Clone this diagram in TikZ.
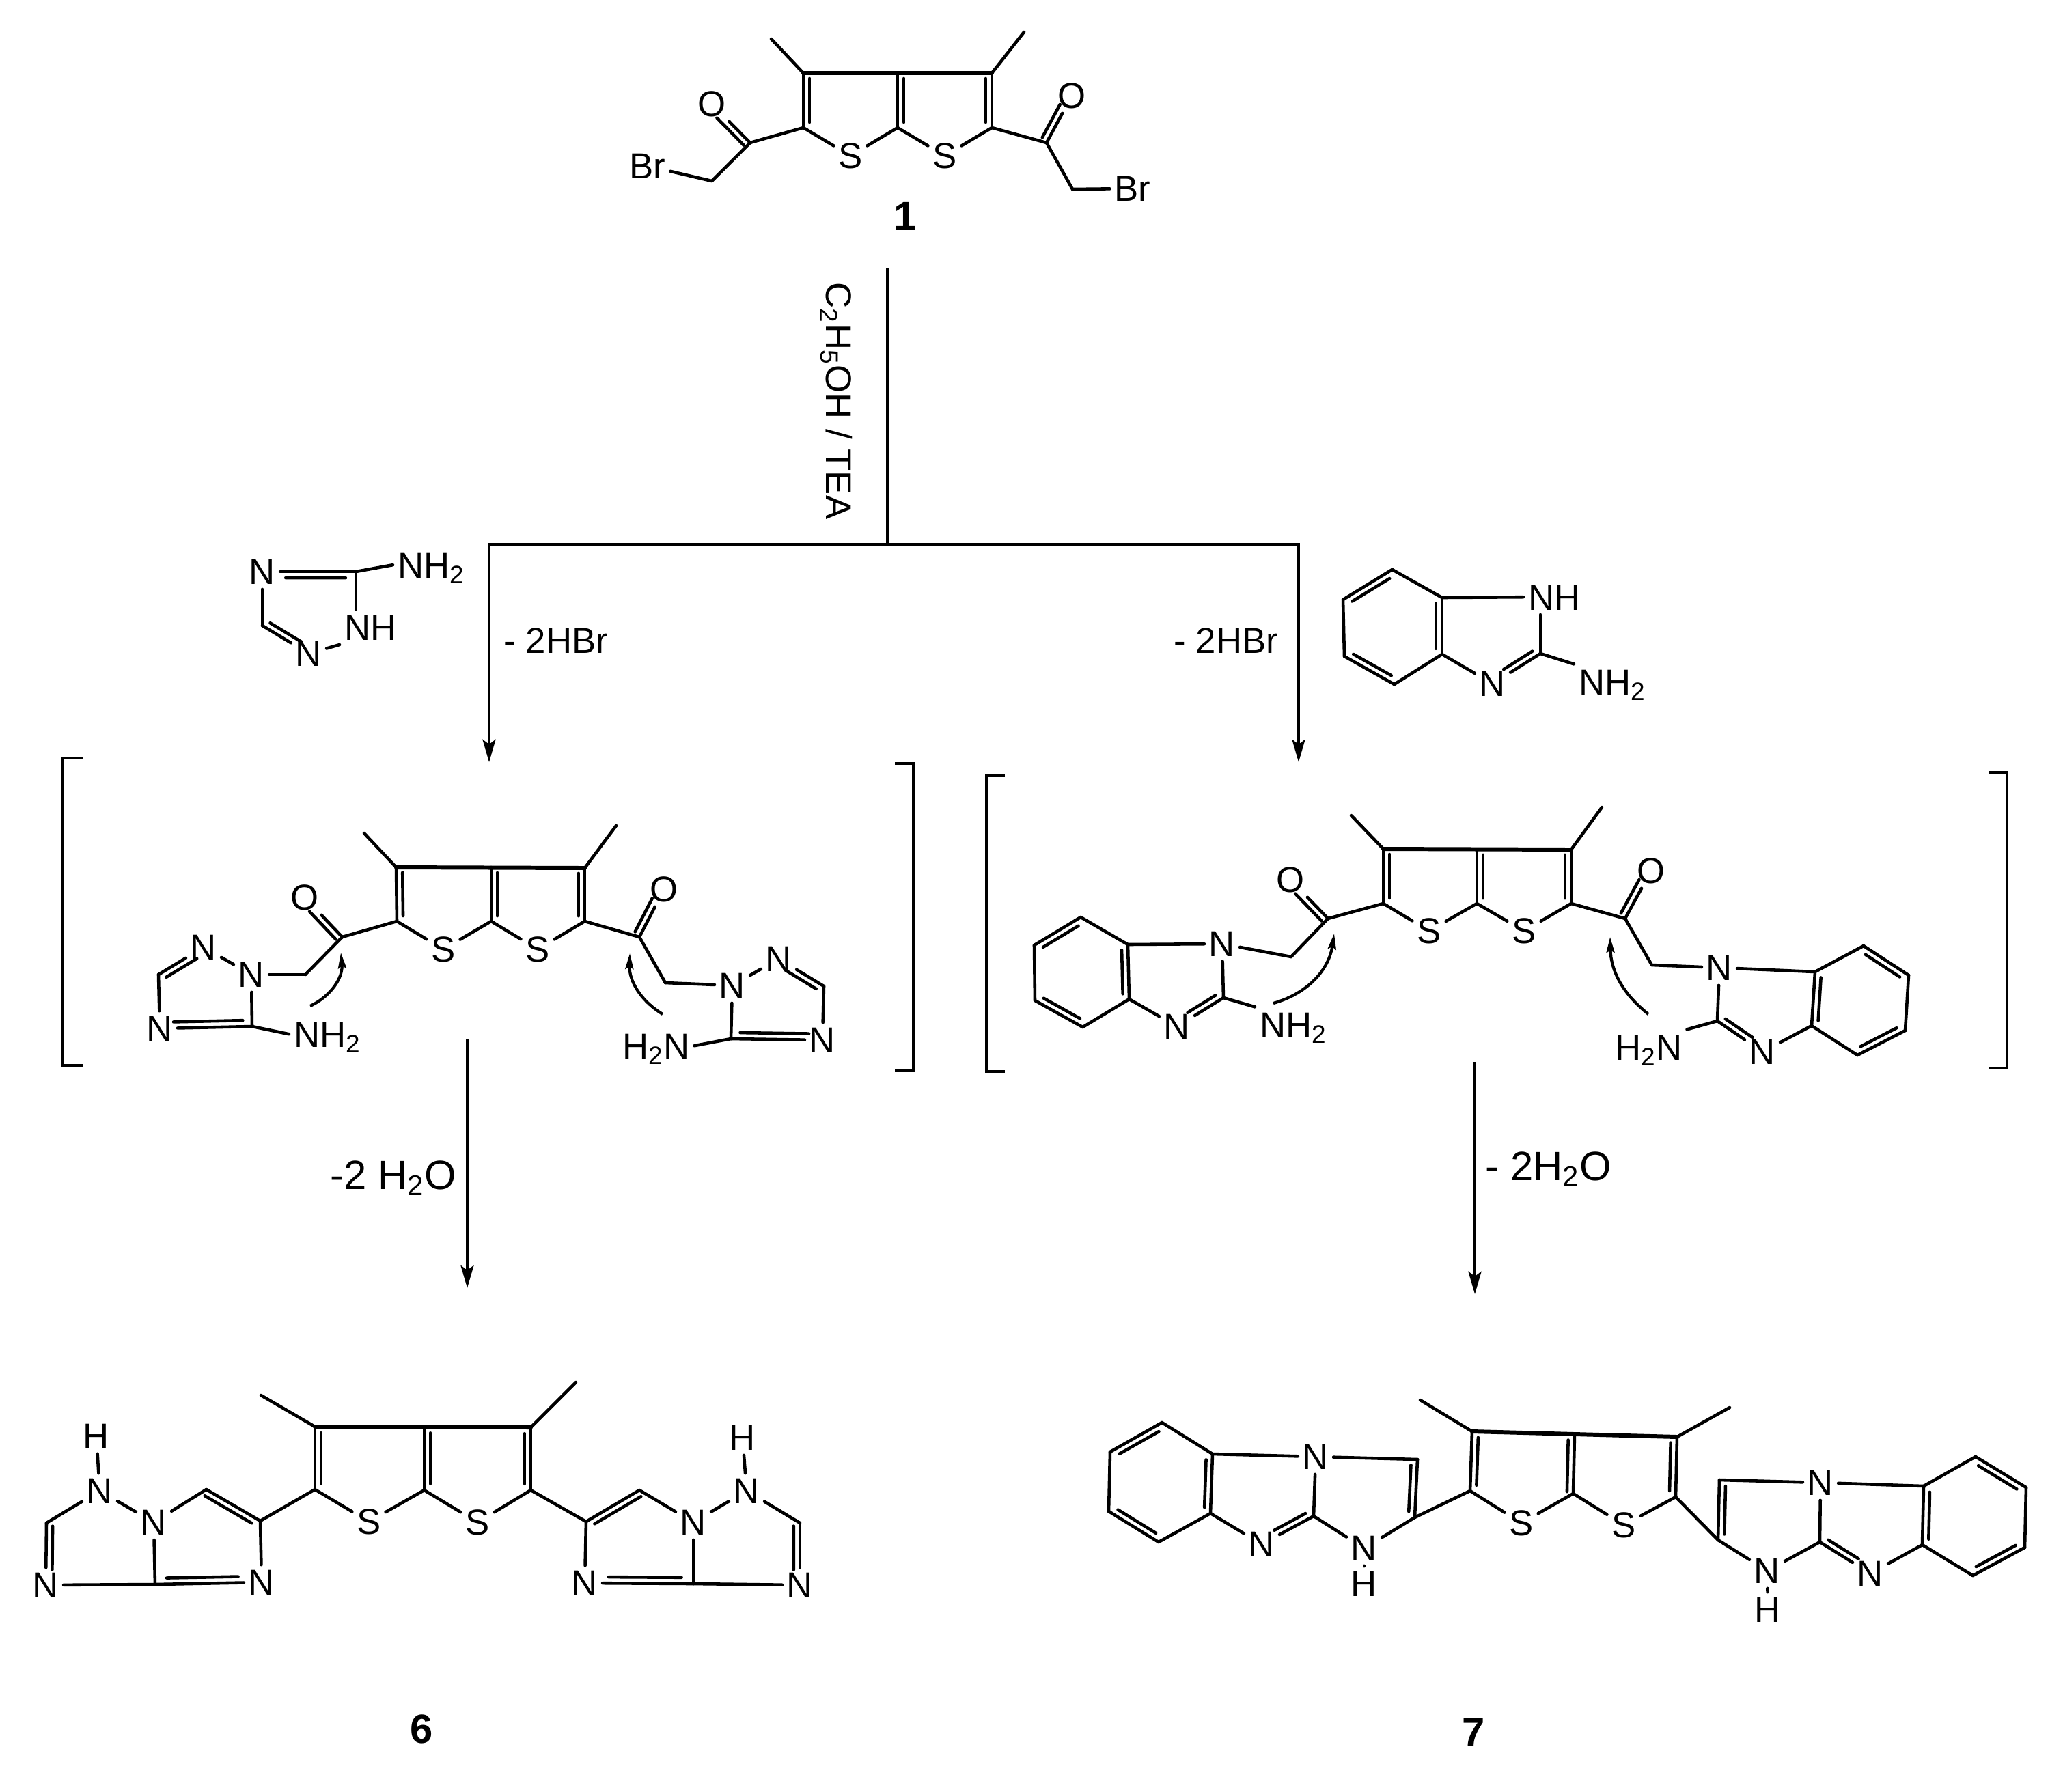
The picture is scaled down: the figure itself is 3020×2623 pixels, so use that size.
\documentclass[tikz,border=0pt]{standalone}
\usepackage{fontspec}
\setmainfont{Liberation Sans}
\usepackage{tikz}
\usetikzlibrary{calc, arrows.meta}

\tikzset{
  atom/.style={inner sep=1.8pt, font=\fontsize{15}{18}\selectfont, text height=10.7pt, text depth=0pt},
  txt/.style={inner sep=0pt, font=\fontsize{15}{18}\selectfont},
  bigtxt/.style={inner sep=0pt, font=\fontsize{17}{20}\selectfont},
  numlabel/.style={inner sep=0pt, font=\fontsize{17}{20}\selectfont\bfseries},
  bond/.style={line width=1.3pt, line cap=round, line join=round},
  topbond/.style={line width=1.7pt},
  bracketline/.style={line width=1.35pt},
  treeline/.style={line width=1.3pt},
  downarrow/.style={line width=1.3pt, -{Stealth[length=9.4pt, width=5.4pt, inset=2pt]}},
  curvearrow/.style={line width=1.2pt, -{Stealth[length=6.5pt, width=3.4pt, inset=1pt]}}
}

% double bond: outer line, inner line on the side given by the angle
\newcommand{\dbond}[5]{%
  \draw[bond] (#1) -- (#2);
  \draw[bond] ($(#1)!#4!(#2)!2.6pt!#3:(#2)$) -- ($(#2)!#5!(#1)!-2.6pt!#3:(#1)$);
}

\begin{document}
\begin{tikzpicture}[x=0.01cm, y=-0.01cm]
    \useasboundingbox (0,0) rectangle (3020,2623);

    % compound 1
    \coordinate (a3l) at (1176,107);
    \coordinate (atop) at (1314,107);
    \coordinate (a3r) at (1452,107);
    \coordinate (amel) at (1129,57);
    \coordinate (amer) at (1499,47);
    \coordinate (a2l) at (1176,187);
    \coordinate (abot) at (1314,187);
    \coordinate (a2r) at (1452,187);
    \coordinate (acol) at (1098,209);
    \coordinate (acor) at (1532,209);
    \coordinate (achl) at (1042,265);
    \coordinate (achr) at (1570,277);
    \node[atom] (asl) at (1245,228) {S};
    \node[atom] (asr) at (1383,228) {S};
    \node[atom] (aol) at (1042,152) {O};
    \node[atom] (aor) at (1569,140) {O};
    \node[atom] (abrl) at (948,243) {Br};
    \node[atom] (abrr) at (1658,276) {Br};
    \node[numlabel] (num1) at (1325,317) {1};

    \draw[bond, topbond] (a3l) -- (a3r);
    \draw[bond] (a3l) -- (amel);
    \draw[bond] (a3r) -- (amer);
    \dbond{a3l}{a2l}{90}{.1}{.1}
    \dbond{atop}{abot}{90}{.1}{.1}
    \dbond{a3r}{a2r}{-90}{.1}{.1}
    \draw[bond] (a2l) -- (asl);
    \draw[bond] (abot) -- (asl);
    \draw[bond] (abot) -- (asr);
    \draw[bond] (a2r) -- (asr);
    \draw[bond] (a2l) -- (acol);
    \draw[bond] (a2r) -- (acor);
    \dbond{acol}{aol}{90}{.05}{.25}
    \dbond{acor}{aor}{90}{.05}{.25}
    \draw[bond] (acol) -- (achl);
    \draw[bond] (acor) -- (achr);
    \draw[bond] (achl) -- (abrl);
    \draw[bond] (achr) -- (abrr);

    % reaction tree
    \coordinate (treetop) at (1299,393);
    \coordinate (fork) at (1299,797);
    \coordinate (forkl) at (716,797);
    \coordinate (forkr) at (1901,797);
    \coordinate (tipl) at (716,1116);
    \coordinate (tipr) at (1901,1116);
    \draw[treeline] (treetop) -- (fork);
    \draw[treeline, line cap=rect] (forkl) -- (forkr);
    \draw[downarrow] (forkl) -- (tipl);
    \draw[downarrow] (forkr) -- (tipr);
    \node[txt, rotate=-90, text height=10.7pt, text depth=0pt] (solvent) at (1228,587) {C\textsubscript{2}H\textsubscript{5}OH / TEA};
    \node[txt, anchor=base west] (hbrl) at (737,956) {- 2HBr};
    \node[txt, anchor=base west] (hbrr) at (1718,956) {- 2HBr};

    % reagent: aminotriazole
    \coordinate (tcn) at (521,837);
    \coordinate (tch) at (384,916);
    \node[atom] (tna) at (384,837) {N};
    \node[atom] (tnb) at (452,957) {N};
    \node[atom, anchor=base west] (tnh) at (497,937) {NH};
    \node[atom, anchor=base west] (tnh2) at (575,846) {NH\textsubscript{2}};
    \draw[bond] (tcn) -- (tnh2.west);
    \dbond{tna}{tcn}{-90}{.25}{.11}
    \draw[bond] (tcn) -- (tnh.north -| tcn);
    \draw[bond] (tna) -- (tch);
    \dbond{tch}{tnb}{90}{.1}{.22}
    \draw[bond] (tnb) -- (tnh.south west);

    % reagent: aminobenzimidazole
    \coordinate (ra) at (2111,875);
    \coordinate (rb) at (2038,834);
    \coordinate (rc) at (1966,878);
    \coordinate (rd) at (1968,961);
    \coordinate (re) at (2041,1002);
    \coordinate (rf) at (2111,958);
    \coordinate (rc2) at (2255,957);
    \node[atom] (rn3) at (2185,1001) {N};
    \node[atom, anchor=base west] (rnh) at (2230,893) {NH};
    \node[atom, anchor=base west] (rnh2) at (2304,1017) {NH\textsubscript{2}};
    \dbond{rf}{ra}{90}{.1}{.1}
    \draw[bond] (ra) -- (rb);
    \dbond{rb}{rc}{90}{.12}{.12}
    \draw[bond] (rc) -- (rd);
    \dbond{rd}{re}{90}{.12}{.12}
    \draw[bond] (re) -- (rf);
    \draw[bond] (ra) -- (rnh.west);
    \draw[bond] (rc2) -- (rnh.south -| rc2);
    \draw[bond] (rf) -- (rn3);
    \dbond{rc2}{rn3}{-90}{.1}{.3}
    \draw[bond] (rc2) -- (rnh2.north west);

    % triazole intermediate, brackets
    \coordinate (blt) at (122,1110);
    \coordinate (bla) at (91,1110);
    \coordinate (blb) at (91,1560);
    \coordinate (blc) at (122,1560);
    \coordinate (brt) at (1310,1118);
    \coordinate (bra) at (1337,1118);
    \coordinate (brb) at (1337,1568);
    \coordinate (brc) at (1310,1568);
    \draw[bracketline] (blt) -- (bla) -- (blb) -- (blc);
    \draw[bracketline] (brt) -- (bra) -- (brb) -- (brc);

    % triazole intermediate
    \coordinate (b3l) at (580,1270);
    \coordinate (btop) at (719,1270);
    \coordinate (b3r) at (856,1271);
    \coordinate (bmel) at (533,1220);
    \coordinate (bmer) at (902,1209);
    \coordinate (b2l) at (581,1349);
    \coordinate (bbot) at (719,1349);
    \coordinate (b2r) at (856,1349);
    \coordinate (bcol) at (501,1372);
    \coordinate (bcor) at (936,1372);
    \coordinate (bchl) at (447,1427);
    \coordinate (bchr) at (974,1439);
    \coordinate (bcl) at (232,1427);
    \coordinate (bcr) at (1206,1444);
    \coordinate (bc5l) at (369,1503);
    \coordinate (bc5r) at (1070,1521);
    \node[atom] (bsl) at (649,1390) {S};
    \node[atom] (bsr) at (787,1390) {S};
    \node[atom] (bol) at (446,1314) {O};
    \node[atom] (bor) at (972,1302) {O};
    \node[atom] (bn1l) at (368,1427) {N};
    \node[atom] (bn2l) at (298,1387) {N};
    \node[atom] (bn4l) at (234,1506) {N};
    \node[atom] (bn1r) at (1072,1443) {N};
    \node[atom] (bn2r) at (1140,1404) {N};
    \node[atom] (bn4r) at (1204,1523) {N};
    \node[atom, anchor=base west] (bnh2) at (423,1533) {NH\textsubscript{2}};
    \node[atom, anchor=base west] (bh2n) at (904,1550) {H\textsubscript{2}N};

    \draw[bond, topbond] (b3l) -- (b3r);
    \draw[bond] (b3l) -- (bmel);
    \draw[bond] (b3r) -- (bmer);
    \dbond{b3l}{b2l}{90}{.1}{.1}
    \dbond{btop}{bbot}{90}{.1}{.1}
    \dbond{b3r}{b2r}{-90}{.1}{.1}
    \draw[bond] (b2l) -- (bsl);
    \draw[bond] (bbot) -- (bsl);
    \draw[bond] (bbot) -- (bsr);
    \draw[bond] (b2r) -- (bsr);
    \draw[bond] (b2l) -- (bcol);
    \draw[bond] (b2r) -- (bcor);
    \dbond{bcol}{bol}{90}{.05}{.25}
    \dbond{bcor}{bor}{90}{.05}{.25}
    \draw[bond] (bcol) -- (bchl);
    \draw[bond] (bcor) -- (bchr);
    \draw[bond] (bchl) -- (bn1l);
    \draw[bond] (bchr) -- (bn1r);
    \draw[bond] (bn1l) -- (bn2l);
    \dbond{bcl}{bn2l}{-90}{.1}{.22}
    \draw[bond] (bcl) -- (bn4l);
    \dbond{bn4l}{bc5l}{90}{.15}{.1}
    \draw[bond] (bn1l) -- (bc5l);
    \draw[bond] (bc5l) -- (bnh2.west);
    \draw[bond] (bn1r) -- (bn2r);
    \dbond{bcr}{bn2r}{90}{.1}{.22}
    \draw[bond] (bcr) -- (bn4r);
    \dbond{bn4r}{bc5r}{-90}{.15}{.1}
    \draw[bond] (bn1r) -- (bc5r);
    \draw[bond] (bc5r) -- (bh2n.east);

    \coordinate (barcla) at (454,1473);
    \coordinate (barclb) at (499,1395);
    \coordinate (barcra) at (970,1485);
    \coordinate (barcrb) at (922,1396);
    \draw[curvearrow] (barcla) to[bend right=35] (barclb);
    \draw[curvearrow] (barcra) to[bend left=30] (barcrb);

    % benzimidazole intermediate, brackets
    \coordinate (dlt) at (1471,1136);
    \coordinate (dla) at (1444,1136);
    \coordinate (dlb) at (1444,1569);
    \coordinate (dlc) at (1471,1569);
    \coordinate (drt) at (2912,1131);
    \coordinate (dra) at (2938,1131);
    \coordinate (drb) at (2938,1564);
    \coordinate (drc) at (2912,1564);
    \draw[bracketline] (dlt) -- (dla) -- (dlb) -- (dlc);
    \draw[bracketline] (drt) -- (dra) -- (drb) -- (drc);

    % benzimidazole intermediate
    \coordinate (d3l) at (2025,1243);
    \coordinate (dtop) at (2162,1244);
    \coordinate (d3r) at (2300,1244);
    \coordinate (dmel) at (1978,1194);
    \coordinate (dmer) at (2345,1182);
    \coordinate (d2l) at (2025,1323);
    \coordinate (dbot) at (2162,1323);
    \coordinate (d2r) at (2300,1323);
    \coordinate (dcol) at (1944,1345);
    \coordinate (dcor) at (2379,1345);
    \coordinate (dchl) at (1890,1401);
    \coordinate (dchr) at (2418,1413);
    \coordinate (dla1) at (1651,1383);
    \coordinate (dlb1) at (1582,1343);
    \coordinate (dlc1) at (1514,1384);
    \coordinate (dld1) at (1515,1465);
    \coordinate (dle1) at (1585,1504);
    \coordinate (dlf1) at (1653,1463);
    \coordinate (dc2l) at (1791,1461);
    \coordinate (dra1) at (2657,1423);
    \coordinate (drb1) at (2728,1385);
    \coordinate (drc1) at (2794,1428);
    \coordinate (drd1) at (2789,1509);
    \coordinate (dre1) at (2719,1545);
    \coordinate (drf1) at (2652,1502);
    \coordinate (dc2r) at (2514,1495);
    \node[atom] (dsl) at (2092,1363) {S};
    \node[atom] (dsr) at (2231,1363) {S};
    \node[atom] (dol) at (1889,1288) {O};
    \node[atom] (dor) at (2417,1275) {O};
    \node[atom] (dn1l) at (1789,1382) {N};
    \node[atom] (dn3l) at (1723,1503) {N};
    \node[atom] (dn1r) at (2517,1417) {N};
    \node[atom] (dn3r) at (2580,1540) {N};
    \node[atom, anchor=base west] (dnh2) at (1837,1519) {NH\textsubscript{2}};
    \node[atom, anchor=base west] (dh2n) at (2357,1552) {H\textsubscript{2}N};

    \draw[bond, topbond] (d3l) -- (d3r);
    \draw[bond] (d3l) -- (dmel);
    \draw[bond] (d3r) -- (dmer);
    \dbond{d3l}{d2l}{90}{.1}{.1}
    \dbond{dtop}{dbot}{90}{.1}{.1}
    \dbond{d3r}{d2r}{-90}{.1}{.1}
    \draw[bond] (d2l) -- (dsl);
    \draw[bond] (dbot) -- (dsl);
    \draw[bond] (dbot) -- (dsr);
    \draw[bond] (d2r) -- (dsr);
    \draw[bond] (d2l) -- (dcol);
    \draw[bond] (d2r) -- (dcor);
    \dbond{dcol}{dol}{90}{.05}{.25}
    \dbond{dcor}{dor}{90}{.05}{.25}
    \draw[bond] (dcol) -- (dchl);
    \draw[bond] (dcor) -- (dchr);
    \draw[bond] (dchl) -- (dn1l);
    \draw[bond] (dchr) -- (dn1r);
    \dbond{dlf1}{dla1}{90}{.1}{.1}
    \draw[bond] (dla1) -- (dlb1);
    \dbond{dlb1}{dlc1}{90}{.12}{.12}
    \draw[bond] (dlc1) -- (dld1);
    \dbond{dld1}{dle1}{90}{.12}{.12}
    \draw[bond] (dle1) -- (dlf1);
    \draw[bond] (dla1) -- (dn1l);
    \draw[bond] (dn1l) -- (dc2l);
    \dbond{dc2l}{dn3l}{-90}{.1}{.3}
    \draw[bond] (dlf1) -- (dn3l);
    \draw[bond] (dc2l) -- (dnh2.north west);
    \dbond{dra1}{drf1}{90}{.1}{.1}
    \draw[bond] (dra1) -- (drb1);
    \dbond{drb1}{drc1}{-90}{.12}{.12}
    \draw[bond] (drc1) -- (drd1);
    \dbond{drd1}{dre1}{-90}{.12}{.12}
    \draw[bond] (dre1) -- (drf1);
    \draw[bond] (dra1) -- (dn1r);
    \draw[bond] (dn1r) -- (dc2r);
    \dbond{dc2r}{dn3r}{90}{.1}{.3}
    \draw[bond] (drf1) -- (dn3r);
    \draw[bond] (dc2r) -- (dh2n.north east);

    \coordinate (darcla) at (1864,1469);
    \coordinate (darclb) at (1953,1367);
    \coordinate (darcra) at (2413,1485);
    \coordinate (darcrb) at (2357,1372);
    \draw[curvearrow] (darcla) to[bend right=33] (darclb);
    \draw[curvearrow] (darcra) to[bend left=25] (darcrb);

    % water loss arrows
    \coordinate (watla) at (684,1521);
    \coordinate (watlb) at (684,1886);
    \coordinate (watra) at (2159,1555);
    \coordinate (watrb) at (2159,1895);
    \draw[downarrow] (watla) -- (watlb);
    \draw[downarrow] (watra) -- (watrb);
    \node[bigtxt, anchor=base west] (waterl) at (483,1741) {-2 H\textsubscript{2}O};
    \node[bigtxt, anchor=base west] (waterr) at (2174,1728) {- 2H\textsubscript{2}O};

    % compound 6
    \coordinate (e3l) at (461,2089);
    \coordinate (etop) at (621,2089);
    \coordinate (e3r) at (777,2090);
    \coordinate (emel) at (382,2043);
    \coordinate (emer) at (843,2024);
    \coordinate (e2l) at (461,2181);
    \coordinate (ebot) at (621,2182);
    \coordinate (e2r) at (777,2182);
    \coordinate (ecl) at (381,2227);
    \coordinate (echl) at (302,2181);
    \coordinate (ehcl) at (68,2230);
    \coordinate (efl) at (227,2320);
    \coordinate (ecr) at (858,2228);
    \coordinate (echr) at (936,2182);
    \coordinate (ehcr) at (1171,2230);
    \coordinate (efr) at (1015,2319);
    \node[atom] (esl) at (540,2228) {S};
    \node[atom] (esr) at (699,2229) {S};
    \node[atom] (enal) at (225,2229) {N};
    \node[atom] (enhl) at (146,2183) {N};
    \node[atom] (ehl) at (141,2103) {H};
    \node[atom] (enbl) at (67,2321) {N};
    \node[atom] (encl) at (383,2317) {N};
    \node[atom] (enar) at (1015,2229) {N};
    \node[atom] (enhr) at (1093,2183) {N};
    \node[atom] (ehr) at (1087,2105) {H};
    \node[atom] (enbr) at (1171,2321) {N};
    \node[atom] (encr) at (856,2318) {N};
    \node[numlabel] (num6) at (617,2532) {6};

    \draw[bond, topbond] (e3l) -- (e3r);
    \draw[bond] (e3l) -- (emel);
    \draw[bond] (e3r) -- (emer);
    \dbond{e3l}{e2l}{90}{.1}{.1}
    \dbond{etop}{ebot}{90}{.1}{.1}
    \dbond{e3r}{e2r}{-90}{.1}{.1}
    \draw[bond] (e2l) -- (esl);
    \draw[bond] (ebot) -- (esl);
    \draw[bond] (ebot) -- (esr);
    \draw[bond] (e2r) -- (esr);
    \draw[bond] (e2l) -- (ecl);
    \draw[bond] (e2r) -- (ecr);
    \dbond{ecl}{echl}{90}{.1}{.03}
    \draw[bond] (echl) -- (enal);
    \draw[bond] (enal) -- (enhl);
    \draw[bond] (enhl) -- (ehl);
    \draw[bond] (enhl) -- (ehcl);
    \dbond{ehcl}{enbl}{90}{.05}{.25}
    \draw[bond] (enbl) -- (efl);
    \draw[bond] (enal) -- (efl);
    \dbond{efl}{encl}{90}{.11}{.22}
    \draw[bond] (ecl) -- (encl);
    \dbond{ecr}{echr}{-90}{.1}{.03}
    \draw[bond] (echr) -- (enar);
    \draw[bond] (enar) -- (enhr);
    \draw[bond] (enhr) -- (ehr);
    \draw[bond] (enhr) -- (ehcr);
    \dbond{ehcr}{enbr}{-90}{.05}{.25}
    \draw[bond] (enbr) -- (efr);
    \draw[bond] (enar) -- (efr);
    \dbond{efr}{encr}{-90}{.11}{.22}
    \draw[bond] (ecr) -- (encr);

    % compound 7
    \coordinate (f3l) at (2155,2096);
    \coordinate (ftop) at (2305,2100);
    \coordinate (f3r) at (2455,2104);
    \coordinate (fmel) at (2079,2050);
    \coordinate (fmer) at (2532,2061);
    \coordinate (f2l) at (2152,2183);
    \coordinate (fbot) at (2303,2187);
    \coordinate (f2r) at (2453,2192);
    \coordinate (fla) at (1775,2129);
    \coordinate (flb) at (1701,2083);
    \coordinate (flc) at (1625,2126);
    \coordinate (fld) at (1623,2213);
    \coordinate (fle) at (1696,2258);
    \coordinate (flf) at (1772,2216);
    \coordinate (fchl) at (2075,2137);
    \coordinate (fcl) at (2071,2222);
    \coordinate (fc2l) at (1923,2220);
    \coordinate (fra) at (2816,2176);
    \coordinate (frb) at (2892,2133);
    \coordinate (frc) at (2966,2178);
    \coordinate (frd) at (2964,2266);
    \coordinate (fre) at (2888,2307);
    \coordinate (frf) at (2814,2262);
    \coordinate (fchr) at (2517,2167);
    \coordinate (fcr) at (2515,2255);
    \coordinate (fc2r) at (2664,2258);
    \node[atom] (fsl) at (2227,2230) {S};
    \node[atom] (fsr) at (2377,2233) {S};
    \node[atom] (fntl) at (1926,2133) {N};
    \node[atom] (fn3l) at (1847,2261) {N};
    \node[atom] (fnhl) at (1997,2267) {N};
    \node[atom] (fhl) at (1997,2319) {H};
    \node[atom] (fntr) at (2665,2171) {N};
    \node[atom] (fn3r) at (2738,2304) {N};
    \node[atom] (fnhr) at (2587,2300) {N};
    \node[atom] (fhr) at (2588,2357) {H};
    \node[numlabel] (num7) at (2157,2537) {7};

    \draw[bond, topbond] (f3l) -- (f3r);
    \draw[bond] (f3l) -- (fmel);
    \draw[bond] (f3r) -- (fmer);
    \dbond{f3l}{f2l}{90}{.1}{.1}
    \dbond{ftop}{fbot}{-90}{.1}{.03}
    \dbond{f3r}{f2r}{-90}{.1}{.1}
    \draw[bond] (f2l) -- (fsl);
    \draw[bond] (fbot) -- (fsl);
    \draw[bond] (fbot) -- (fsr);
    \draw[bond] (f2r) -- (fsr);
    \draw[bond] (f2l) -- (fcl);
    \draw[bond] (f2r) -- (fcr);
    \dbond{flf}{fla}{90}{.1}{.1}
    \draw[bond] (fla) -- (flb);
    \dbond{flb}{flc}{90}{.12}{.12}
    \draw[bond] (flc) -- (fld);
    \dbond{fld}{fle}{90}{.12}{.12}
    \draw[bond] (fle) -- (flf);
    \draw[bond] (fla) -- (fntl);
    \draw[bond] (fntl) -- (fchl);
    \dbond{fchl}{fcl}{-90}{.1}{.1}
    \draw[bond] (fcl) -- (fnhl);
    \draw[bond] (fnhl) -- (fhl);
    \draw[bond] (fnhl) -- (fc2l);
    \draw[bond] (fntl) -- (fc2l);
    \dbond{fc2l}{fn3l}{-90}{.1}{.3}
    \draw[bond] (flf) -- (fn3l);
    \dbond{fra}{frf}{90}{.1}{.1}
    \draw[bond] (fra) -- (frb);
    \dbond{frb}{frc}{-90}{.12}{.12}
    \draw[bond] (frc) -- (frd);
    \dbond{frd}{fre}{-90}{.12}{.12}
    \draw[bond] (fre) -- (frf);
    \draw[bond] (fra) -- (fntr);
    \draw[bond] (fntr) -- (fchr);
    \dbond{fchr}{fcr}{90}{.1}{.1}
    \draw[bond] (fcr) -- (fnhr);
    \draw[bond] (fnhr) -- (fhr);
    \draw[bond] (fnhr) -- (fc2r);
    \draw[bond] (fntr) -- (fc2r);
    \dbond{fc2r}{fn3r}{90}{.1}{.3}
    \draw[bond] (frf) -- (fn3r);

\end{tikzpicture}
\end{document}
